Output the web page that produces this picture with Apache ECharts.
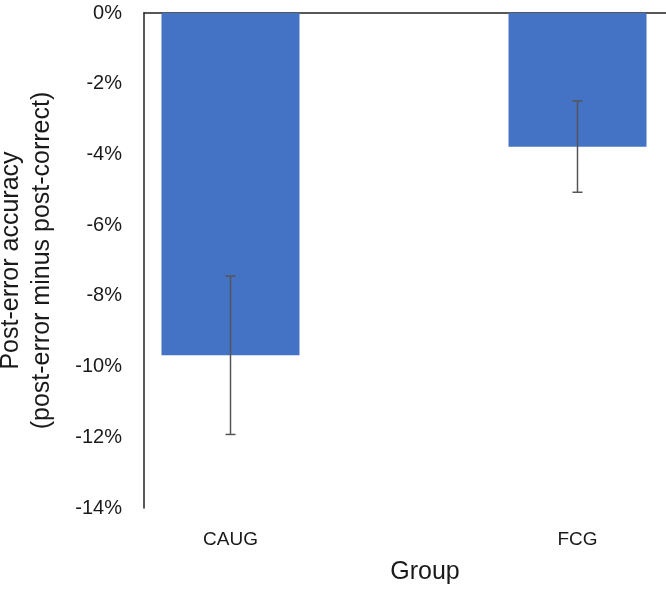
<!DOCTYPE html>
<html>
<head>
<meta charset="utf-8">
<script src="https://cdn.jsdelivr.net/npm/echarts@6/dist/echarts.min.js"></script>
<style>html,body{margin:0;padding:0;background:#fff;}#c{width:666px;height:590px;}</style>
</head>
<body>
<div id="c"></div>
<script>
const categories = ['CAUG', 'FCG'];
const values = [-9.68, -3.78];
const errors = [2.24, 1.29];
const yTicks = [-14, -12, -10, -8, -6, -4, -2, 0];

const FONT = 'Liberation Sans';
const chart = echarts.init(document.getElementById('c'), null, {renderer: 'canvas'});
chart.setOption({
  animation: false,
  backgroundColor: '#fff',
  grid: [
    {left: 57, width: 694, top: 13, bottom: 82, containLabel: false, outerBoundsMode: 'none'},
    {left: 144, right: 0, top: 13, bottom: 82, containLabel: false, outerBoundsMode: 'none'}
  ],
  xAxis: [
    {
      type: 'category', gridIndex: 0, data: categories,
      axisLine: {show: false, onZero: false}, position: 'bottom',
      axisTick: {show: false},
      axisLabel: {fontFamily: FONT, fontSize: 19, color: '#1a1a1a', margin: 22},
      name: 'Group', nameLocation: 'middle', nameGap: 52,
      nameTextStyle: {fontFamily: FONT, fontSize: 25, color: '#1a1a1a', padding: [0, 0, 0, 42]}
    },
    {
      type: 'category', gridIndex: 1, data: categories,
      axisLine: {show: true, onZero: true, lineStyle: {color: '#222', width: 1.5}},
      axisTick: {show: false}, axisLabel: {show: false}
    }
  ],
  yAxis: [
    {
      type: 'value', gridIndex: 0, min: yTicks[0], max: yTicks[yTicks.length - 1], interval: 2,
      show: false
    },
    {
      type: 'value', gridIndex: 1, min: yTicks[0], max: yTicks[yTicks.length - 1], interval: 2,
      axisLine: {show: true, lineStyle: {color: '#222', width: 1.5}},
      axisTick: {show: false},
      splitLine: {show: false},
      axisLabel: {fontFamily: FONT, fontSize: 20, color: '#1a1a1a', margin: 22,
        formatter: v => v + '%'},
      name: 'Post-error accuracy\n(post-error minus post-correct)',
      nameLocation: 'middle', nameRotate: 90, nameGap: 86,
      nameTextStyle: {fontFamily: FONT, fontSize: 25, lineHeight: 31, color: '#1a1a1a', align: 'center'}
    }
  ],
  series: [
    {
      type: 'bar', xAxisIndex: 0, yAxisIndex: 0,
      data: values, barWidth: 138,
      itemStyle: {color: '#4472C4'}
    },
    {
      type: 'custom', xAxisIndex: 0, yAxisIndex: 0,
      data: values.map((v, i) => [i, v - errors[i], v + errors[i]]),
      encode: {x: 0, y: [1, 2]},
      z: 10,
      renderItem: function (params, api) {
        const x = api.value(0);
        const lo = api.coord([x, api.value(1)]);
        const hi = api.coord([x, api.value(2)]);
        const cap = 5;
        const st = {stroke: '#555', lineWidth: 1.5, fill: null};
        return {
          type: 'group',
          children: [
            {type: 'line', shape: {x1: lo[0], y1: lo[1], x2: hi[0], y2: hi[1]}, style: st},
            {type: 'line', shape: {x1: lo[0] - cap, y1: lo[1], x2: lo[0] + cap, y2: lo[1]}, style: st},
            {type: 'line', shape: {x1: hi[0] - cap, y1: hi[1], x2: hi[0] + cap, y2: hi[1]}, style: st}
          ]
        };
      }
    }
  ]
});
</script>
</body>
</html>
